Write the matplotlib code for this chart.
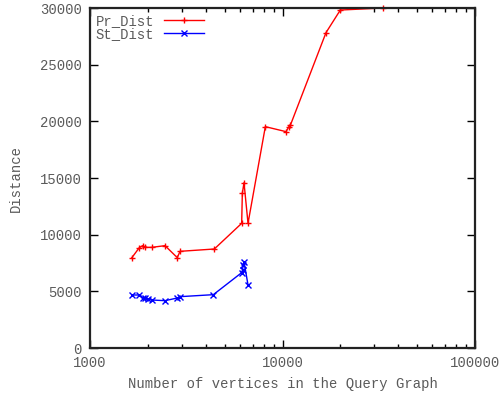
import matplotlib
matplotlib.use("Agg")
import matplotlib.pyplot as plt
from matplotlib.ticker import LogLocator, NullFormatter, FixedLocator

# number of vertices in the query graph
pr_vertices = [1647, 1803, 1878, 1931, 2091, 2453, 2842, 2934, 4424,
               6137, 6185, 6310, 6620, 8144, 10430, 10800, 11000,
               16830, 19970, 33150]
pr_dist = [7950, 8850, 9030, 8880, 8880, 9030, 7970, 8530, 8735,
           11000, 13650, 14590, 11000, 19530, 19090, 19530, 19680,
           27830, 29820, 30000]

st_vertices = [1647, 1803, 1893, 1931, 2010, 2091, 2453, 2842, 2934,
               4372, 6137, 6200, 6250, 6310, 6620]
st_dist = [4676, 4676, 4382, 4441, 4294, 4235, 4176, 4412, 4529,
           4706, 6647, 6882, 7323, 7618, 5559]

y_ticks = [0, 5000, 10000, 15000, 20000, 25000, 30000]
x_ticks = [1000, 10000, 100000]

TEXT = "#5a5a5a"
plt.rcParams["font.family"] = ["Liberation Mono", "DejaVu Sans Mono"]
plt.rcParams["font.size"] = 10

fig = plt.figure(figsize=(5.03, 3.98), dpi=100)
ax = fig.add_axes([90 / 503, 50 / 398, 385 / 503, 340 / 398])

ax.plot(pr_vertices, pr_dist, color="red", lw=1, marker="+", ms=5, mew=1,
        label="Pr_Dist", clip_on=False)
ax.plot(st_vertices, st_dist, color="blue", lw=1, marker="x", ms=4, mew=1,
        label="St_Dist")

ax.set_xscale("log")
ax.set_xlim(1000, 100000)
ax.set_ylim(0, 30000)
ax.xaxis.set_major_locator(FixedLocator(x_ticks))
ax.xaxis.set_minor_locator(LogLocator(base=10, subs=range(2, 10)))
ax.xaxis.set_minor_formatter(NullFormatter())
ax.set_xticklabels([str(v) for v in x_ticks])
ax.set_yticks(y_ticks)
ax.set_yticklabels([str(v) for v in y_ticks])

ax.tick_params(which="both", direction="in", top=True, right=True,
               colors="black", labelcolor=TEXT, labelsize=10)
ax.tick_params(which="major", length=6, width=1, pad=6)
ax.tick_params(which="minor", length=3, width=1)
for s in ax.spines.values():
    s.set_linewidth(1.6)
    s.set_color("#222222")

ax.set_xlabel("Number of vertices in the Query Graph", color=TEXT, labelpad=5)
ax.set_ylabel("Distance", color=TEXT, labelpad=12)

leg = ax.legend(loc="upper left", frameon=False, markerfirst=False,
                handlelength=2.9, borderaxespad=0.1, labelspacing=-0.05,
                handletextpad=0.7, borderpad=0.3)
for t in leg.get_texts():
    t.set_color(TEXT)

fig.savefig("out.png", dpi=100)
plt.close()
